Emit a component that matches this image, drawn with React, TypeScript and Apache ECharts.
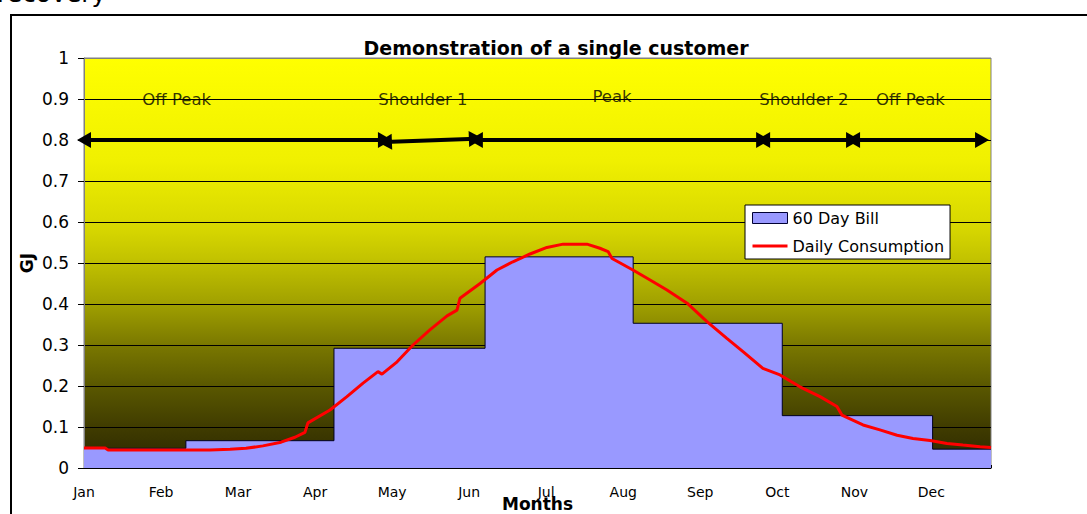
import React, { useEffect, useRef } from "react";
import * as echarts from "echarts";

// ---- data ----
const monthLabels = ["Jan", "Feb", "Mar", "Apr", "May", "Jun", "Jul", "Aug", "Sep", "Oct", "Nov", "Dec"];
const monthLabelStep = 31; // days between month labels
const yearDays = 365;

// 60-day bill (step series): day at which each bill level starts, and its GJ/day level
const billStartDays = [0, 41, 100.6, 161.4, 221, 281, 341.5, 365];
const billValues = [0.048, 0.0666, 0.292, 0.515, 0.353, 0.1277, 0.046, 0.046];

// daily consumption curve
const consumptionDays = [
  0, 8.5, 9.7, 50.7, 58.8, 65.2, 72, 79.3, 84.9, 88.9, 90.1, 99, 105.8, 112.3, 118.3, 119.9,
  126, 132.4, 139.2, 146.1, 150.1, 151.3, 159.4, 166.2, 172.6, 179.5, 186.3, 192.8, 202.4,
  207.6, 210.9, 212.5, 220.9, 227.8, 234.6, 242.7, 250.7, 258.7, 265.2, 273.2, 280.1, 288.1,
  296.2, 303, 305, 313.5, 320.3, 327.2, 333.6, 340.5, 347.3, 353.7, 360.6, 365,
];
const consumptionValues = [
  0.049, 0.049, 0.044, 0.044, 0.046, 0.048, 0.054, 0.063, 0.075, 0.087, 0.11, 0.1415, 0.174,
  0.207, 0.235, 0.229, 0.259, 0.3, 0.337, 0.371, 0.385, 0.414, 0.45, 0.483, 0.503, 0.522,
  0.538, 0.546, 0.546, 0.536, 0.528, 0.511, 0.483, 0.4585, 0.434, 0.402, 0.357, 0.316, 0.284,
  0.243, 0.227, 0.198, 0.174, 0.15, 0.129, 0.105, 0.093, 0.08, 0.072, 0.067, 0.06, 0.056,
  0.052, 0.05,
];

// tariff periods
const periodNames = ["Off Peak", "Shoulder 1", "Peak", "Shoulder 2", "Off Peak"];
const periodLabelDays = [37.3, 136.4, 212.5, 289.7, 332.6];
const periodLabelValues = [0.9, 0.9, 0.907, 0.9, 0.9];
const periodArrowStartDays = [0, 121.1, 157.7, 273.3, 309.5];
const periodArrowEndDays = [121.1, 157.7, 273.3, 309.5, 361.4];
const periodArrowStartValues = [0.8, 0.795, 0.8, 0.8, 0.8];
const periodArrowEndValues = [0.8, 0.803, 0.8, 0.8, 0.8];

const yTicks = [0, 0.1, 0.2, 0.3, 0.4, 0.5, 0.6, 0.7, 0.8, 0.9, 1];

const FONT = "DejaVu Sans";

export default function App() {
  const ref = useRef<HTMLDivElement>(null);

  useEffect(() => {
    if (!ref.current) return;
    const chart = echarts.init(ref.current, undefined, { renderer: "svg" });

    const billData = billStartDays.map((d, i) => [d, billValues[i]]);
    const consumptionData = consumptionDays.map((d, i) => [d, consumptionValues[i]]);
    const labelData = periodLabelDays.map((d, i) => ({
      value: [d, periodLabelValues[i]],
      name: periodNames[i],
    }));
    const arrowData = periodArrowStartDays.map((d, i) => [
      { coord: [d, periodArrowStartValues[i]] },
      { coord: [periodArrowEndDays[i], periodArrowEndValues[i]] },
    ]);

    const splitColors = yTicks.map((v, i) => (i === yTicks.length - 1 ? "#808080" : "#000000"));

    chart.setOption({
      animation: false,
      textStyle: { fontFamily: FONT },
      title: {
        text: "Demonstration of a single customer",
        left: 551,
        top: 33,
        textAlign: "center",
        textStyle: { fontFamily: FONT, fontSize: 19, fontWeight: "bold", color: "#000" },
      },
      legend: {
        left: 745,
        top: 205,
        orient: "vertical",
        backgroundColor: "#ffffff",
        borderColor: "#000000",
        borderWidth: 1,
        borderRadius: 0,
        padding: [5, 6, 5, 7],
        itemGap: 12,
        itemWidth: 35,
        itemHeight: 11,
        textStyle: { fontFamily: FONT, fontSize: 16, color: "#000" },
        data: [
          {
            name: "60 Day Bill",
            icon: "rect",
            itemStyle: { color: "#9999ff", borderColor: "#000033", borderWidth: 1 },
          },
          {
            name: "Daily Consumption",
            icon: "path://M0 0 L35 0 L35 3 L0 3 Z",
            itemStyle: { color: "#ff0000", borderWidth: 0 },
          },
        ],
      },
      grid: {
        left: 84,
        right: 96,
        top: 58,
        bottom: 46,
        outerBoundsMode: "none",
        containLabel: false,
        show: true,
        borderColor: "#808080",
        borderWidth: 1,
        backgroundColor: new echarts.graphic.LinearGradient(0, 0, 0, 1, [
          { offset: 0, color: "#ffff00" },
          { offset: 0.25, color: "#f0f000" },
          { offset: 0.42, color: "#d6d600" },
          { offset: 0.5, color: "#c0c000" },
          { offset: 0.6, color: "#a0a000" },
          { offset: 0.7, color: "#7a7800" },
          { offset: 0.8, color: "#5a5800" },
          { offset: 0.9, color: "#403c00" },
          { offset: 1, color: "#2a2600" },
        ]),
      },
      xAxis: {
        type: "value",
        min: 0,
        max: yearDays,
        interval: monthLabelStep,
        name: "Months",
        nameLocation: "middle",
        nameGap: 27,
        nameMoveOverlap: false,
        nameTextStyle: { fontFamily: FONT, fontSize: 17, fontWeight: "bold", color: "#000" },
        axisLine: { show: true, lineStyle: { color: "#000", width: 1 } },
        axisTick: { show: true, inside: true, length: 3, lineStyle: { color: "#000" } },
        minorTick: { show: true, splitNumber: monthLabelStep, length: 3, lineStyle: { color: "#000" } },
        splitLine: { show: false },
        axisLabel: {
          margin: 17,
          fontFamily: FONT,
          fontSize: 14,
          color: "#000",
          showMaxLabel: false,
          formatter: (v: number) => {
            const idx = Math.round(v / monthLabelStep);
            if (Math.abs(v - idx * monthLabelStep) > 0.01) return "";
            return monthLabels[idx] ?? "";
          },
        },
      },
      yAxis: {
        type: "value",
        min: 0,
        max: 1,
        interval: 0.1,
        name: "GJ",
        nameLocation: "middle",
        nameRotate: 90,
        nameGap: 49,
        nameMoveOverlap: false,
        nameTextStyle: { fontFamily: FONT, fontSize: 17, fontWeight: "bold", color: "#000" },
        axisLine: { show: true, lineStyle: { color: "#808080", width: 1 } },
        axisTick: { show: true, length: 6, lineStyle: { color: "#000" } },
        splitLine: { show: true, lineStyle: { color: splitColors, width: 1 } },
        axisLabel: {
          margin: 15,
          fontFamily: FONT,
          fontSize: 17,
          color: "#000",
          formatter: (v: number) => String(Number(v.toFixed(1))),
        },
      },
      series: [
        {
          name: "60 Day Bill",
          type: "line",
          step: "end",
          data: billData,
          symbol: "none",
          lineStyle: { color: "#000022", width: 1 },
          itemStyle: { color: "#9999ff" },
          areaStyle: { color: "#9999ff", opacity: 1 },
          z: 2,
        },
        {
          name: "Daily Consumption",
          type: "line",
          data: consumptionData,
          symbol: "none",
          showSymbol: false,
          lineStyle: { color: "#ff0000", width: 3 },
          itemStyle: { color: "#ff0000" },
          z: 4,
          markLine: {
            silent: true,
            symbol: ["triangle", "triangle"],
            symbolSize: [16, 14],
            lineStyle: { color: "#000", width: 4, type: "solid" },
            itemStyle: { color: "#000" },
            label: { show: false },
            emphasis: { disabled: true },
            data: arrowData,
          },
        },
        {
          name: "periods",
          type: "scatter",
          data: labelData,
          symbolSize: 0,
          silent: true,
          z: 5,
          label: {
            show: true,
            position: "inside",
            formatter: (p: any) => p.name,
            fontFamily: FONT,
            fontSize: 16.5,
            color: "#000",
          },
        },
      ],
      graphic: [
        {
          type: "rect",
          shape: { x: 11, y: 15, width: 1100, height: 520 },
          style: { fill: "none", stroke: "#000", lineWidth: 2 },
          silent: true,
        },
        {
          type: "text",
          x: -3,
          y: -19,
          style: { text: "recovery", font: "25px " + FONT, fill: "#000" },
          silent: true,
        },
      ],
    });

    return () => chart.dispose();
  }, []);

  return (
    <div
      ref={ref}
      style={{ position: "absolute", left: 0, top: 0, width: 1087, height: 514, background: "#fff" }}
    />
  );
}
